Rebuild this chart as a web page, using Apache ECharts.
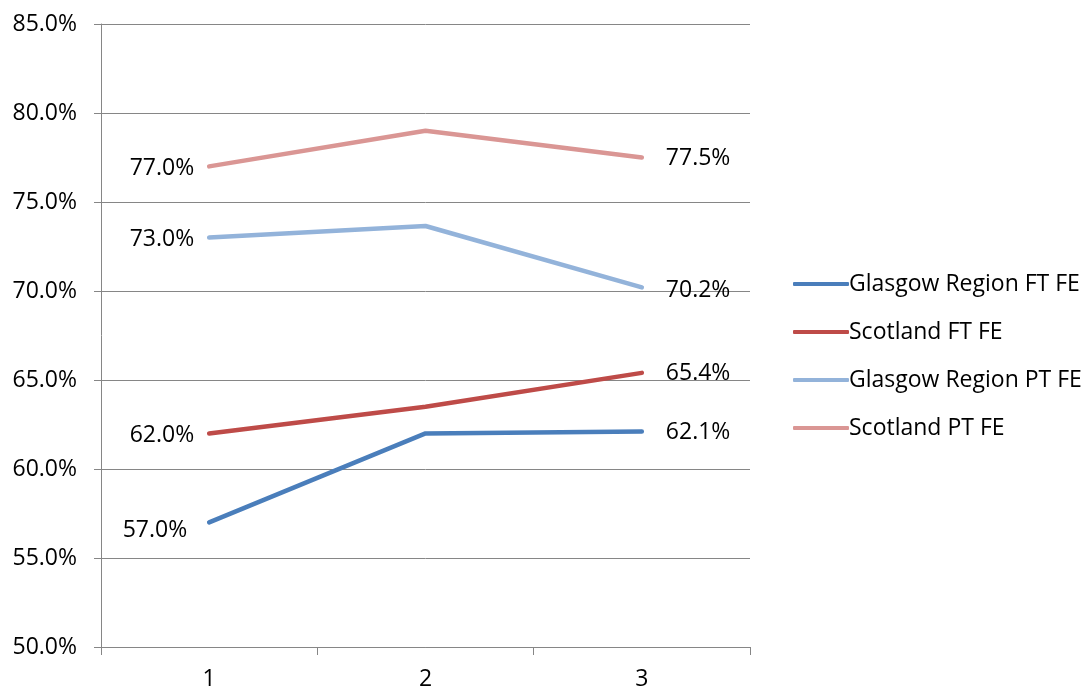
<!DOCTYPE html>
<html>
<head>
<meta charset="utf-8">
<script src="https://cdn.jsdelivr.net/npm/echarts@6/dist/echarts.min.js"></script>
<style>html,body{margin:0;padding:0;background:#fff}#c{width:1088px;height:691px}</style>
</head>
<body>
<div id="c"></div>
<script>
const categories = ['1', '2', '3'];
const glasgowFT = [57.0, 62.0, 62.1];
const scotlandFT = [62.0, 63.5, 65.4];
const glasgowPT = [73.0, 73.65, 70.2];
const scotlandPT = [77.0, 79.0, 77.5];
const seriesNames = ['Glasgow Region FT FE', 'Scotland FT FE', 'Glasgow Region PT FE', 'Scotland PT FE'];
const seriesColors = ['#4A7EBB', '#BE4B48', '#93B3DA', '#DA9694'];
const yTicks = { min: 50, max: 85, interval: 5 };

const FONT = 'Open Sans';
const FS = 23;
const fmt = v => v.toFixed(1) + '%';
// per-series nudge of the first-point label (style only)
const firstLabelOffsets = [[-7, 8], [0, 2], [0, 2], [0, 2]];
const lastLabelOffsets = [[0, 1], [0, 1], [0, 3], [0, 1]];

function buildData(values, k) {
  const last = values.length - 1;
  return values.map((v, i) => {
    if (i === 0) return { value: v, label: { show: true, position: 'left', distance: 15, offset: firstLabelOffsets[k] } };
    if (i === last) return { value: v, label: { show: true, position: 'right', distance: 24, offset: lastLabelOffsets[k] } };
    return { value: v };
  });
}

const allValues = [glasgowFT, scotlandFT, glasgowPT, scotlandPT];

const chart = echarts.init(document.getElementById('c'), null, { renderer: 'canvas' });
chart.setOption({
  animation: false,
  backgroundColor: '#ffffff',
  grid: { left: 101, right: 338, top: 24, bottom: 44, containLabel: false },
  legend: {
    orient: 'vertical',
    left: 788,
    top: 267,
    itemWidth: 56,
    itemHeight: 4,
    itemGap: 24,
    data: seriesNames.map((n, k) => ({ name: n, icon: 'roundRect', itemStyle: { color: seriesColors[k] } })),
    textStyle: { fontFamily: FONT, fontSize: FS, color: '#000', padding: [0, 0, 0, -5], lineHeight: 24 }
  },
  xAxis: {
    type: 'category',
    data: categories,
    boundaryGap: true,
    axisLine: { lineStyle: { color: '#868686', width: 1 } },
    axisTick: { show: true, length: 8, lineStyle: { color: '#868686' } },
    axisLabel: { fontFamily: FONT, fontSize: FS, color: '#000', margin: 21 },
    splitLine: { show: false }
  },
  yAxis: {
    type: 'value',
    min: yTicks.min,
    max: yTicks.max,
    interval: yTicks.interval,
    axisLine: { show: true, lineStyle: { color: '#868686', width: 1 } },
    axisTick: { show: true, length: 7, lineStyle: { color: '#868686' } },
    axisLabel: { fontFamily: FONT, fontSize: FS, color: '#000', margin: 24, formatter: v => fmt(v) },
    splitLine: { show: true, lineStyle: { color: '#868686', width: 1 } }
  },
  series: seriesNames.map((name, k) => ({
    name: name,
    type: 'line',
    data: buildData(allValues[k], k),
    symbol: 'circle',
    symbolSize: 0.01,
    showSymbol: true,
    lineStyle: { color: seriesColors[k], width: 4.5, cap: 'round' },
    itemStyle: { color: seriesColors[k] },
    label: {
      show: false,
      fontFamily: FONT,
      fontSize: FS,
      color: '#000',
      formatter: p => fmt(p.value)
    },
    z: 2 + k
  }))
});
</script>
</body>
</html>
